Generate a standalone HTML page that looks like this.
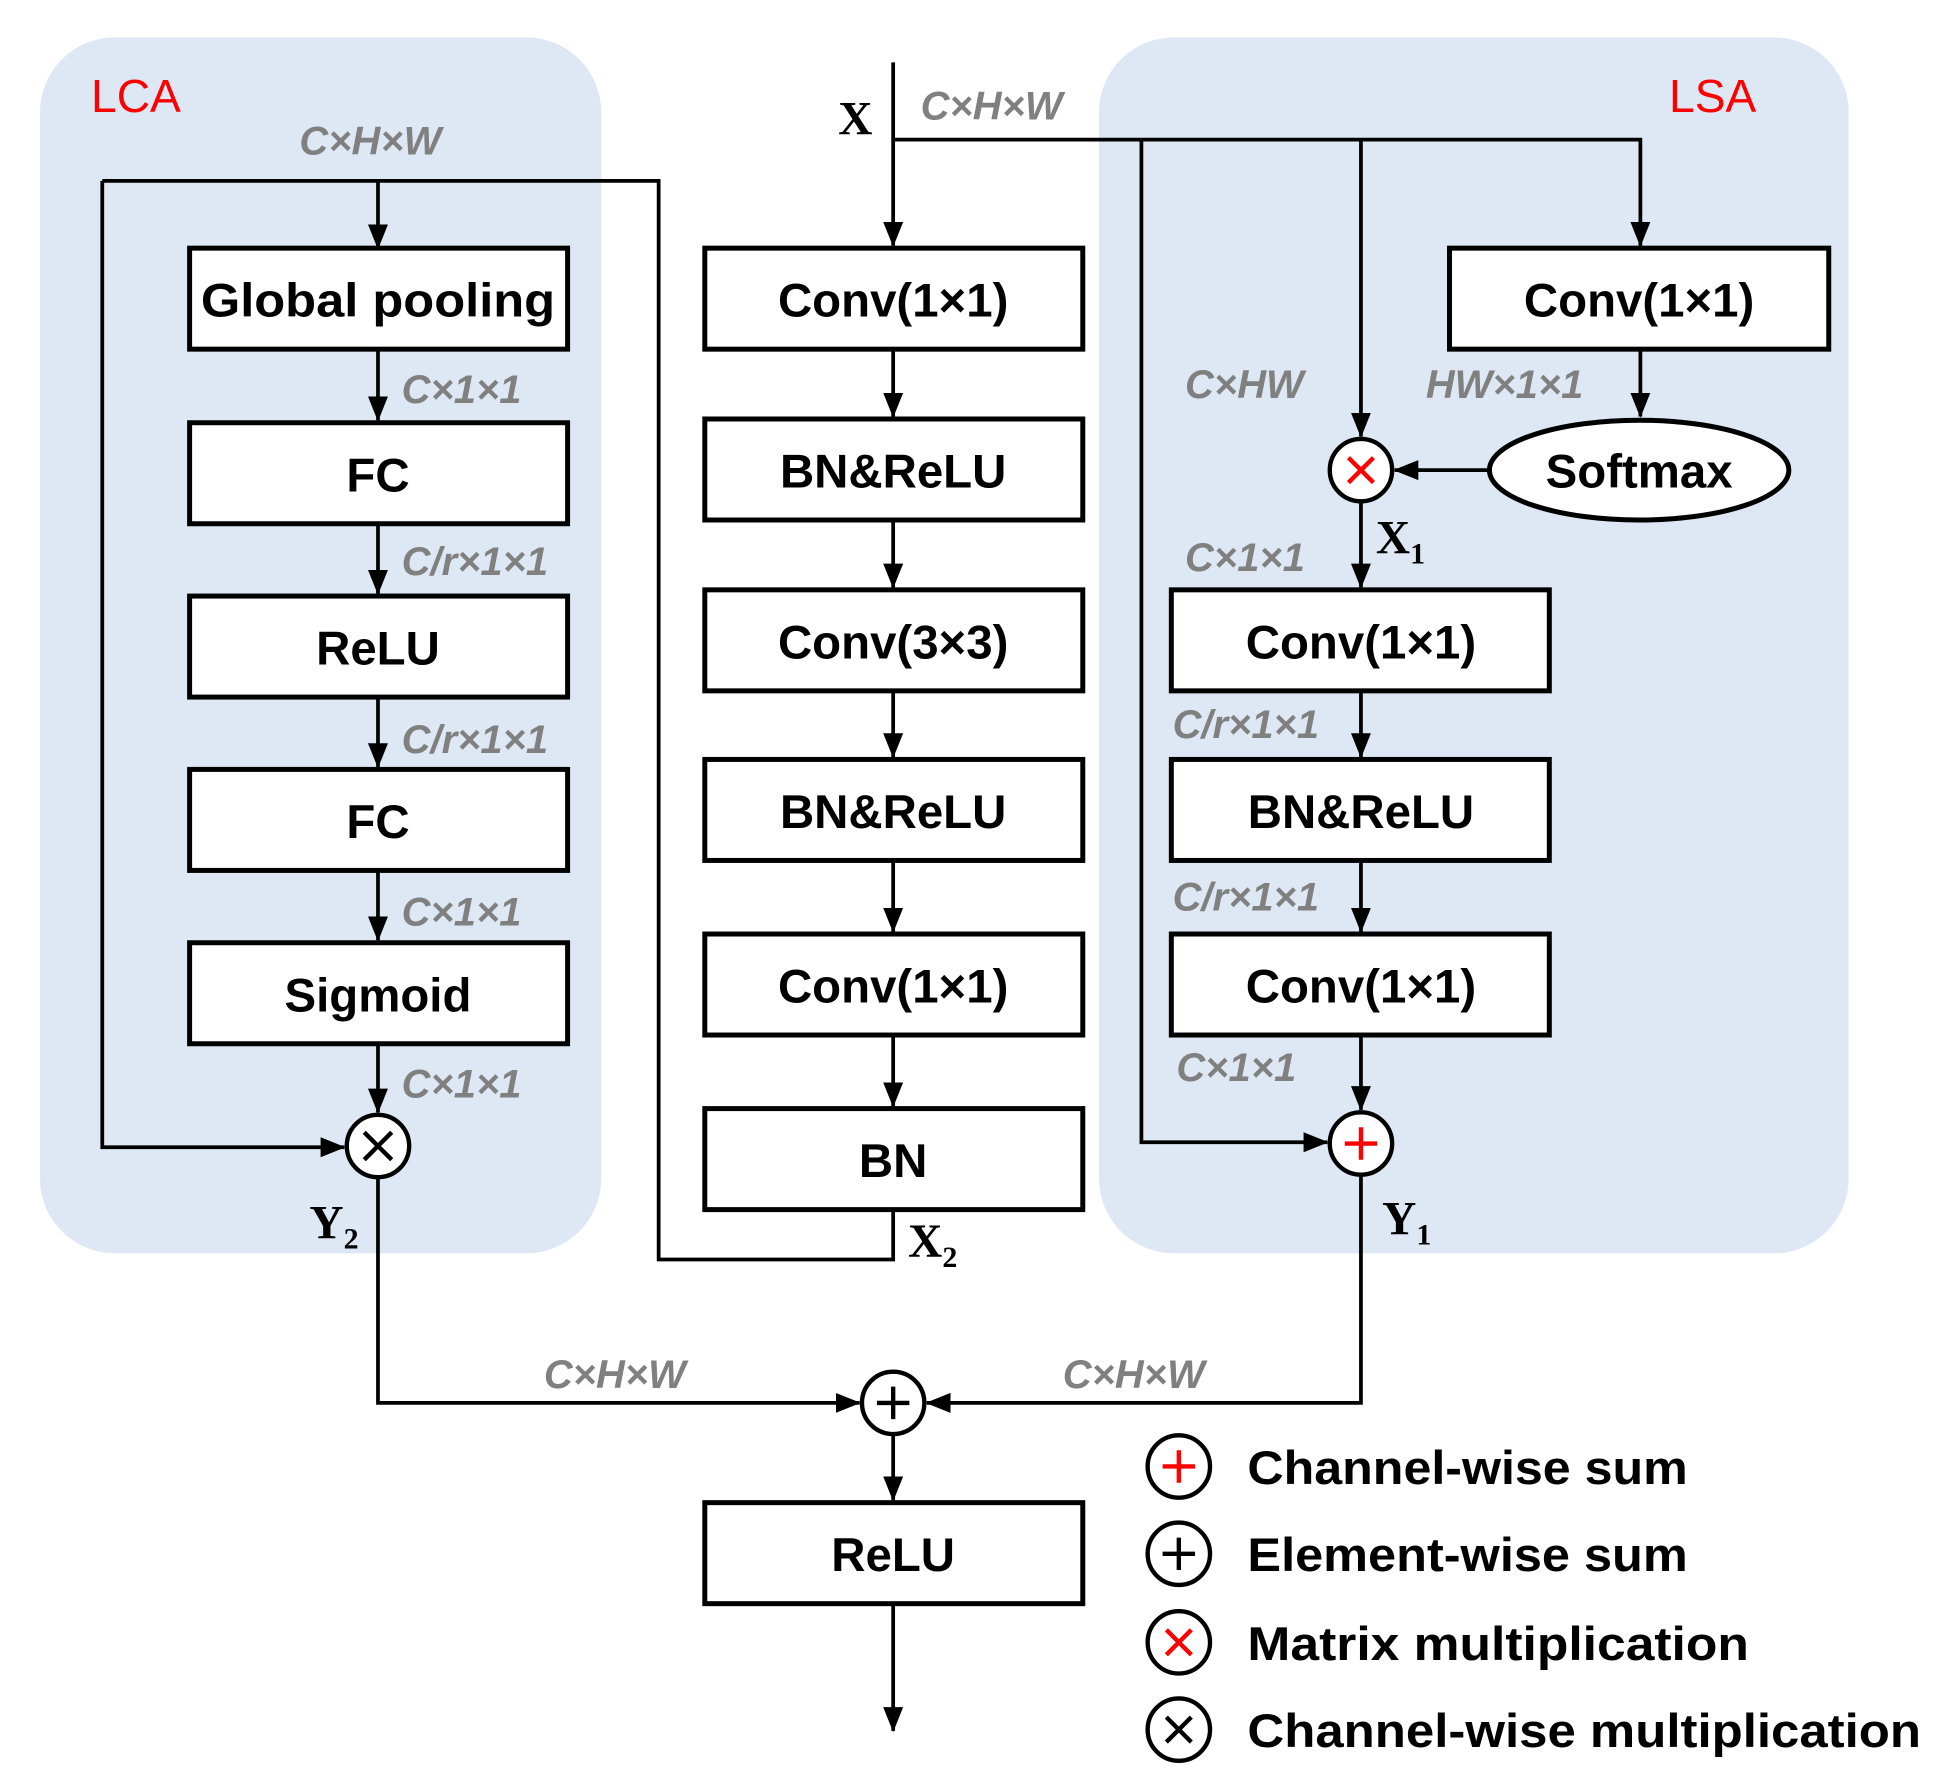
<!DOCTYPE html>
<html><head><meta charset="utf-8"><style>html,body{margin:0;padding:0;background:#fff}svg{display:block}</style></head><body>
<svg width="1946" height="1777" viewBox="0 0 1560 1425" preserveAspectRatio="none" xmlns="http://www.w3.org/2000/svg">
<defs>
<marker id="b" markerWidth="20" markerHeight="20" refX="19" refY="10" orient="auto" markerUnits="userSpaceOnUse" viewBox="0 0 20 20"><path d="M0,2 L20,10 L0,18 z" fill="#000"/></marker></defs>
<rect x="32" y="30" width="450" height="975" rx="60" fill="#dee8f4"/>
<rect x="881" y="30" width="601" height="975" rx="60" fill="#dee8f4"/>
<g font-family="Liberation Sans, sans-serif" font-size="37" fill="#f00"><text x="73" y="90">LCA</text><text x="1338" y="90">LSA</text></g>
<g fill="#fff" stroke="#000" stroke-width="4">
<rect x="152" y="199" width="303" height="81"/><rect x="152" y="339" width="303" height="81"/><rect x="152" y="478" width="303" height="81"/><rect x="152" y="617" width="303" height="81"/><rect x="152" y="756" width="303" height="81"/>
<rect x="565" y="199" width="303" height="81"/><rect x="565" y="336" width="303" height="81"/><rect x="565" y="473" width="303" height="81"/><rect x="565" y="609" width="303" height="81"/><rect x="565" y="749" width="303" height="81"/><rect x="565" y="889" width="303" height="81"/>
<rect x="1162" y="199" width="304" height="81"/><rect x="939" y="473" width="303" height="81"/><rect x="939" y="609" width="303" height="81"/><rect x="939" y="749" width="303" height="81"/>
<rect x="565" y="1205" width="303" height="81"/>
<ellipse cx="1314" cy="377" rx="120" ry="40"/>
</g>
<g font-family="Liberation Sans, sans-serif" font-size="38" font-weight="bold" text-anchor="middle" fill="#000">
<text x="303" y="254" textLength="284" lengthAdjust="spacingAndGlyphs">Global pooling</text><text x="303" y="394">FC</text><text x="303" y="533">ReLU</text><text x="303" y="672">FC</text><text x="303" y="811">Sigmoid</text>
<text x="716" y="254">Conv(1×1)</text><text x="716" y="391">BN&amp;ReLU</text><text x="716" y="528">Conv(3×3)</text><text x="716" y="664">BN&amp;ReLU</text><text x="716" y="804">Conv(1×1)</text><text x="716" y="944">BN</text>
<text x="1314" y="254">Conv(1×1)</text><text x="1314" y="391">Softmax</text><text x="1091" y="528">Conv(1×1)</text><text x="1091" y="664">BN&amp;ReLU</text><text x="1091" y="804">Conv(1×1)</text>
<text x="716" y="1260">ReLU</text>
</g>
<g stroke="#000" stroke-width="3" fill="none" marker-end="url(#b)">
<path d="M303,145 V199"/><path d="M303,280 V337"/><path d="M303,420 V476"/><path d="M303,559 V615"/><path d="M303,698 V754"/><path d="M303,837 V892"/>
<path d="M82,145 H528 V1010 H716 V970" marker-end="none"/>
<path d="M82,145 V920 H276"/>
<path d="M716,50 V197"/><path d="M716,280 V334"/><path d="M716,417 V471"/><path d="M716,554 V607"/><path d="M716,690 V747"/><path d="M716,830 V887"/>
<path d="M716,112 H1315 V197"/><path d="M1091,112 V350"/><path d="M915,112 V916 H1064"/>
<path d="M1315,280 V334"/><path d="M1194,377 H1118"/>
<path d="M1091,402 V471"/><path d="M1091,554 V607"/><path d="M1091,690 V747"/><path d="M1091,830 V890"/>
<path d="M1091,942 V1125 H743"/><path d="M303,944 V1125 H689"/>
<path d="M716,1150 V1203"/><path d="M716,1286 V1388"/>
</g>
<g stroke="#000" stroke-width="3.5" fill="#fff">
<circle cx="303" cy="919" r="25"/><circle cx="1091" cy="377" r="25"/><circle cx="1091" cy="917" r="25"/><circle cx="716" cy="1125" r="25"/>
<circle cx="945" cy="1176" r="25"/><circle cx="945" cy="1246" r="25"/><circle cx="945" cy="1317" r="25"/><circle cx="945" cy="1387" r="25"/>
</g>
<g stroke-width="3.5">
<path d="M292,908 L314,930 M314,908 L292,930" stroke="#000"/>
<path d="M1081,367 L1101,387 M1101,367 L1081,387" stroke="#f00"/>
<path d="M1091,904 V930 M1078,917 H1104" stroke="#f00"/>
<path d="M716,1112 V1138 M703,1125 H729" stroke="#000"/>
<path d="M945,1163 V1189 M932,1176 H958" stroke="#f00"/>
<path d="M945,1233 V1259 M932,1246 H958" stroke="#000"/>
<path d="M935,1307 L955,1327 M955,1307 L935,1327" stroke="#f00"/>
<path d="M935,1377 L955,1397 M955,1377 L935,1397" stroke="#000"/>
</g>
<g font-family="Liberation Sans, sans-serif" font-size="38" font-weight="bold" fill="#000">
<text x="1000" y="1190" textLength="353" lengthAdjust="spacingAndGlyphs">Channel-wise sum</text><text x="1000" y="1260" textLength="353" lengthAdjust="spacingAndGlyphs">Element-wise sum</text><text x="1000" y="1331" textLength="402" lengthAdjust="spacingAndGlyphs">Matrix multiplication</text><text x="1000" y="1401" textLength="540" lengthAdjust="spacingAndGlyphs">Channel-wise multiplication</text>
</g>
<g font-family="Liberation Sans, sans-serif" font-size="32" font-weight="bold" font-style="italic" fill="#808080">
<text x="240" y="124">C×H×W</text><text x="738" y="96">C×H×W</text>
<text x="322" y="323">C×1×1</text><text x="322" y="461">C/r×1×1</text><text x="322" y="604">C/r×1×1</text><text x="322" y="742">C×1×1</text><text x="322" y="880">C×1×1</text>
<text x="950" y="319">C×HW</text><text x="1143" y="319">HW×1×1</text><text x="950" y="458">C×1×1</text><text x="940" y="592">C/r×1×1</text><text x="940" y="730">C/r×1×1</text><text x="943" y="867">C×1×1</text>
<text x="436" y="1113">C×H×W</text><text x="852" y="1113">C×H×W</text>
</g>
<g font-family="Liberation Serif, serif" font-weight="bold" fill="#000">
<text x="672" y="108" font-size="38">X</text>
<text x="1103" y="444" font-size="38">X<tspan font-size="24" dy="8">1</tspan></text>
<text x="728" y="1008" font-size="38">X<tspan font-size="24" dy="8">2</tspan></text>
<text x="248" y="993" font-size="38">Y<tspan font-size="24" dy="8">2</tspan></text>
<text x="1108" y="990" font-size="38">Y<tspan font-size="24" dy="8">1</tspan></text>
</g>
</svg>
</body></html>
